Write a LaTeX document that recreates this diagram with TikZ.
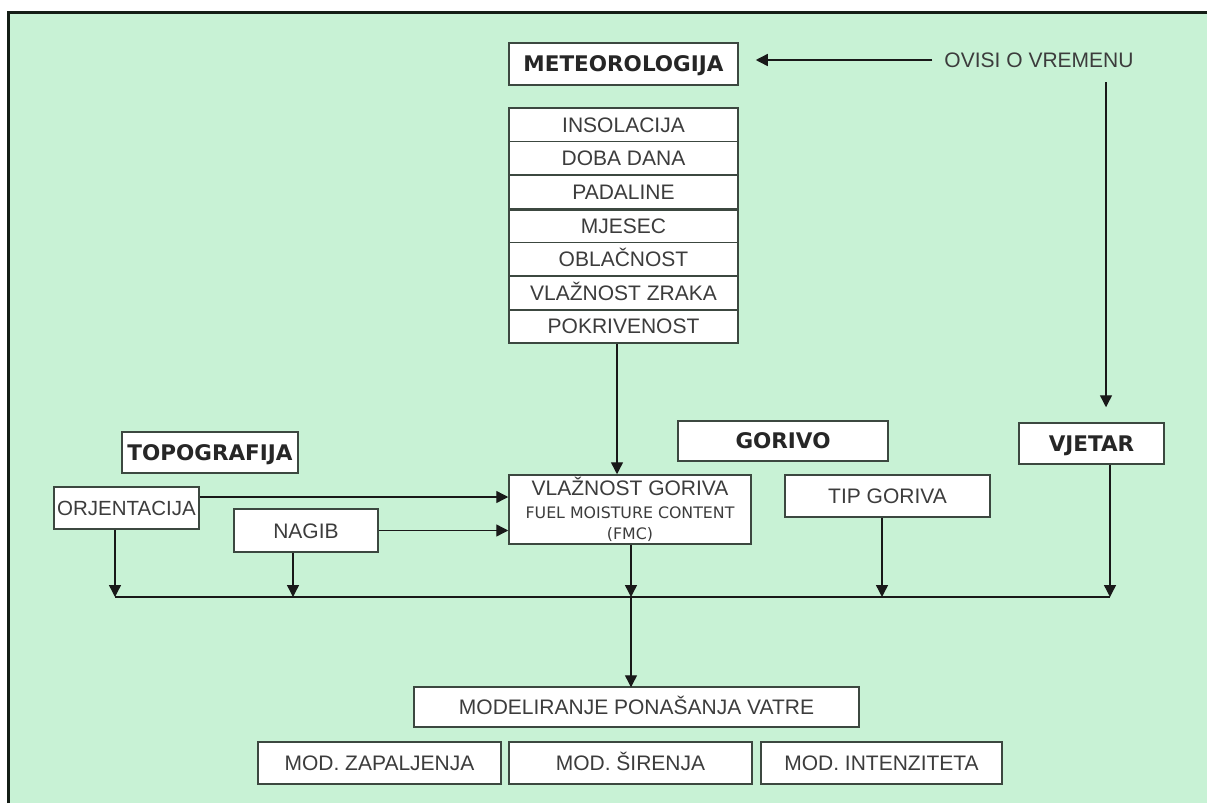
\documentclass[tikz,border=0pt]{standalone}
\usepackage{fontspec}
\setmainfont{Liberation Sans}
\newfontfamily\hdrfont{DejaVu Sans}
\newfontfamily\dvfont{DejaVu Sans}
\usetikzlibrary{arrows.meta,calc}
\definecolor{bggreen}{RGB}{200,242,213}
\definecolor{boxline}{RGB}{60,72,64}
\definecolor{txt}{RGB}{60,60,60}
\definecolor{framecol}{RGB}{20,30,22}
\tikzset{
  basebox/.style={draw=boxline, line width=1.5pt, fill=white, inner sep=0pt, text=txt,
    font=\fontsize{21}{24}\selectfont},
  box/.style={basebox, text height=15pt, text depth=0pt},
  hdrbox/.style={box, font=\hdrfont\bfseries\fontsize{21.5}{24}\selectfont, text=black!85},
  rowbox/.style={box, minimum width=229pt, minimum height=33.57pt},
  conn/.style={draw=black!90, line width=1.4pt},
  arr/.style={conn, -{Triangle[length=12pt,width=12pt]}},
}
\begin{document}
\begin{tikzpicture}[x=1pt,y=-1pt]
\useasboundingbox (0,0) rectangle (1207,803);
% background and frame
\fill[white] (0,0) rectangle (1207,803);
\fill[bggreen] (9,13) rectangle (1207,803);
\draw[framecol, line width=3pt] (8.5,803) -- (8.5,12.5) -- (1207,12.5);

% meteorology
\node[hdrbox, minimum width=229pt, minimum height=42pt] (meteo) at (623.5,64) {METEOROLOGIJA};
\node[rowbox] (r1) at (623.5,124.8) {INSOLACIJA};
\node[rowbox] (r2) at (623.5,158.4) {DOBA DANA};
\node[rowbox] (r3) at (623.5,192.0) {PADALINE};
\node[rowbox] (r4) at (623.5,225.5) {MJESEC};
\node[rowbox] (r5) at (623.5,259.1) {OBLAČNOST};
\node[rowbox] (r6) at (623.5,292.7) {VLAŽNOST ZRAKA};
\node[rowbox] (r7) at (623.5,326.2) {POKRIVENOST};
\draw[boxline, line width=2.4pt] (r3.south west) -- (r3.south east);
\draw[boxline, line width=2.4pt] (r6.south west) -- (r6.south east);

\node[font=\fontsize{21}{24}\selectfont, text=txt, inner sep=0pt] (ovisi) at (1039,60) {OVISI O VREMENU};

% topography
\node[hdrbox, minimum width=176pt, minimum height=41pt] (topo) at (210,452.5) {TOPOGRAFIJA};
\node[box, minimum width=145pt, minimum height=42pt, font=\fontsize{20.5}{24}\selectfont] (orj) at (126.5,508) {ORJENTACIJA};
\node[box, minimum width=144pt, minimum height=43pt] (nagib) at (306,530.5) {NAGIB};

% fuel
\node[basebox, minimum width=242pt, minimum height=69pt, align=center] (fmc) at (630,509.5)
  {\fontsize{21}{23}\selectfont VLAŽNOST GORIVA\\[-1pt]
   {\dvfont\fontsize{15.8}{17}\selectfont FUEL MOISTURE CONTENT}\\[-3pt]
   {\dvfont\fontsize{15.8}{17}\selectfont (FMC)}};
\node[hdrbox, minimum width=210pt, minimum height=40pt] (gorivo) at (783,441) {GORIVO};
\node[box, minimum width=205pt, minimum height=42pt] (tip) at (887.5,496) {TIP GORIVA};

% wind
\node[hdrbox, minimum width=145pt, minimum height=41pt] (vjetar) at (1091.5,443.5) {VJETAR};

% modelling
\node[box, minimum width=445pt, minimum height=40pt] (model) at (636.5,707) {MODELIRANJE PONAŠANJA VATRE};
\node[box, minimum width=243pt, minimum height=42pt] (zap) at (379.5,763) {MOD. ZAPALJENJA};
\node[box, minimum width=243pt, minimum height=42pt] (sir) at (630.5,763) {MOD. ŠIRENJA};
\node[box, minimum width=241pt, minimum height=42pt] (int) at (881.5,763) {MOD. INTENZITETA};

% helper coordinates
\coordinate (cm) at (617,0);
\coordinate (w1) at (1106,82);
\coordinate (b1) at (115,597);
\coordinate (b2) at (293,597);
\coordinate (b3) at (631,597);
\coordinate (b4) at (882,597);
\coordinate (b5) at (1110,597);

% connectors
\draw[arr, shorten <=12pt, shorten >=17pt] (ovisi.west) -- (ovisi.west -| meteo.east);
\draw[arr, shorten >=15pt] (w1) -- (w1 |- vjetar.north);
\draw[arr] (r7.south -| cm) -- (fmc.north -| cm);
\draw[arr] ([yshift=11pt]orj.east) -- ([yshift=11pt]orj.east -| fmc.west);
\draw[arr] (nagib.east) -- (nagib.east -| fmc.west);
\draw[conn] (b1) -- (b5);
\draw[arr] (orj.south -| b1) -- (b1);
\draw[arr] (nagib.south -| b2) -- (b2);
\draw[arr] (fmc.south -| b3) -- (b3);
\draw[arr] (tip.south -| b4) -- (b4);
\draw[arr] (vjetar.south -| b5) -- (b5);
\draw[arr, shorten >=-1pt] (b3) -- (b3 |- model.north);
\end{tikzpicture}
\end{document}
